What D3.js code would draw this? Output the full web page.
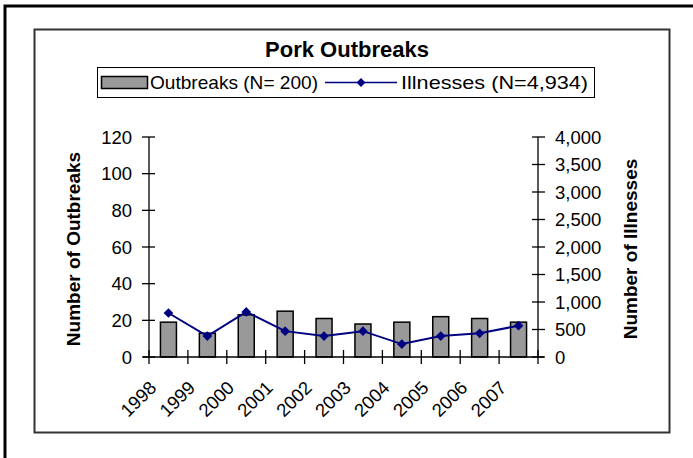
<!DOCTYPE html>
<html>
<head>
<meta charset="utf-8">
<script src="https://cdn.jsdelivr.net/npm/d3@7"></script>
<style>
  body { margin: 0; background: #fff; }
  svg { display: block; font-family: "Liberation Sans", Arial, sans-serif; }
</style>
</head>
<body>
<div id="chart"></div>
<script>
const years = ["1998", "1999", "2000", "2001", "2002", "2003", "2004", "2005", "2006", "2007"];
const outbreaks = [19, 13, 23, 25, 21, 18, 19, 22, 21, 19];
const illnesses = [800, 380, 820, 470, 380, 470, 235, 380, 430, 569];
const leftTicks = [0, 20, 40, 60, 80, 100, 120];
const rightTicks = [0, 500, 1000, 1500, 2000, 2500, 3000, 3500, 4000];

const W = 693, H = 458;
const plot = { left: 149, right: 538, top: 137, bottom: 357 };
const TICK_FONT = "18.5px";

const svg = d3.select("#chart").append("svg")
  .attr("width", W).attr("height", H);

// outer frame (cut off at right and bottom)
svg.append("path")
  .attr("d", `M5,${H} V6 H${W}`)
  .attr("fill", "none").attr("stroke", "#000").attr("stroke-width", 3);

// chart area box
svg.append("rect")
  .attr("x", 34.5).attr("y", 29.5).attr("width", 635).attr("height", 403)
  .attr("fill", "none").attr("stroke", "#333").attr("stroke-width", 2);

svg.append("text")
  .attr("x", 347).attr("y", 57)
  .attr("text-anchor", "middle")
  .attr("font-size", "22px").attr("font-weight", "bold")
  .text("Pork Outbreaks");

// legend
const leg = svg.append("g");
leg.append("rect")
  .attr("x", 97.5).attr("y", 67.5).attr("width", 497).attr("height", 30)
  .attr("fill", "#fff").attr("stroke", "#000").attr("stroke-width", 1);
leg.append("rect")
  .attr("x", 101.5).attr("y", 76.5).attr("width", 46).attr("height", 12)
  .attr("fill", "#999").attr("stroke", "#000").attr("stroke-width", 1.5);
leg.append("text")
  .attr("x", 150).attr("y", 89)
  .attr("font-size", "19px")
  .attr("textLength", 168).attr("lengthAdjust", "spacingAndGlyphs")
  .text("Outbreaks (N= 200)");
leg.append("line")
  .attr("x1", 325).attr("x2", 397).attr("y1", 82.5).attr("y2", 82.5)
  .attr("stroke", "#000080").attr("stroke-width", 1.5);
leg.append("path")
  .attr("d", d3.symbol(d3.symbolDiamond2, 50)())
  .attr("transform", "translate(361,82.5)")
  .attr("fill", "#000080");
leg.append("text")
  .attr("x", 401).attr("y", 89)
  .attr("font-size", "19px")
  .attr("textLength", 187).attr("lengthAdjust", "spacingAndGlyphs")
  .text("Illnesses (N=4,934)");

const x = d3.scaleBand().domain(years).range([plot.left, plot.right]);
const yL = d3.scaleLinear().domain([0, 120]).range([plot.bottom, plot.top]);
const yR = d3.scaleLinear().domain([0, 4000]).range([plot.bottom, plot.top]);

// bars
svg.append("g").selectAll("rect")
  .data(years)
  .join("rect")
  .attr("x", (d) => x(d) + x.bandwidth() / 2 - 8)
  .attr("width", 16)
  .attr("y", (d, i) => yL(outbreaks[i]))
  .attr("height", (d, i) => plot.bottom - yL(outbreaks[i]))
  .attr("fill", "#999")
  .attr("stroke", "#000").attr("stroke-width", 1.5);

// axes: Excel-style cross ticks
const axisG = svg.append("g").attr("stroke", "#000").attr("stroke-width", 1.3);
axisG.append("line").attr("x1", plot.left).attr("x2", plot.left).attr("y1", plot.top).attr("y2", plot.bottom);
axisG.append("line").attr("x1", plot.right).attr("x2", plot.right).attr("y1", plot.top).attr("y2", plot.bottom);
axisG.append("line").attr("x1", plot.left - 6).attr("x2", plot.right + 6).attr("y1", plot.bottom).attr("y2", plot.bottom);

axisG.selectAll(".lt").data(leftTicks).join("line")
  .attr("x1", plot.left - 7).attr("x2", plot.left + 6)
  .attr("y1", (d) => yL(d)).attr("y2", (d) => yL(d));
axisG.selectAll(".rt").data(rightTicks).join("line")
  .attr("x1", plot.right - 6).attr("x2", plot.right + 7)
  .attr("y1", (d) => yR(d)).attr("y2", (d) => yR(d));
axisG.selectAll(".xt").data(d3.range(years.length + 1)).join("line")
  .attr("x1", (i) => plot.left + i * x.step()).attr("x2", (i) => plot.left + i * x.step())
  .attr("y1", plot.bottom - 7).attr("y2", plot.bottom + 7);

svg.append("g").selectAll("text")
  .data(leftTicks).join("text")
  .attr("x", 132).attr("y", (d) => yL(d) + 6.5)
  .attr("text-anchor", "end").attr("font-size", TICK_FONT)
  .text((d) => d);

svg.append("g").selectAll("text")
  .data(rightTicks).join("text")
  .attr("x", 555).attr("y", (d) => yR(d) + 6.5)
  .attr("font-size", TICK_FONT)
  .text((d) => d3.format(",")(d));

svg.append("g").selectAll("text")
  .data(years).join("text")
  .attr("transform", (d) => `translate(${x(d) + x.bandwidth() / 2 - 11},${plot.bottom + 32}) rotate(-45)`)
  .attr("text-anchor", "end").attr("font-size", TICK_FONT)
  .text((d) => d);

// axis titles
svg.append("text")
  .attr("transform", `translate(80,${(plot.top + plot.bottom) / 2 + 2}) rotate(-90)`)
  .attr("text-anchor", "middle").attr("font-size", "19px").attr("font-weight", "bold")
  .text("Number of Outbreaks");
svg.append("text")
  .attr("transform", `translate(637,${(plot.top + plot.bottom) / 2 + 2}) rotate(-90)`)
  .attr("text-anchor", "middle").attr("font-size", "19px").attr("font-weight", "bold")
  .text("Number of Illnesses");

// illness line
const line = d3.line()
  .x((d, i) => x(years[i]) + x.bandwidth() / 2)
  .y((d) => yR(d));
svg.append("path")
  .datum(illnesses)
  .attr("d", line)
  .attr("fill", "none").attr("stroke", "#000080").attr("stroke-width", 2);
svg.append("g").selectAll("path")
  .data(illnesses).join("path")
  .attr("d", d3.symbol(d3.symbolDiamond2, 60)())
  .attr("transform", (d, i) => `translate(${x(years[i]) + x.bandwidth() / 2},${yR(d)})`)
  .attr("fill", "#000080");
</script>
</body>
</html>
